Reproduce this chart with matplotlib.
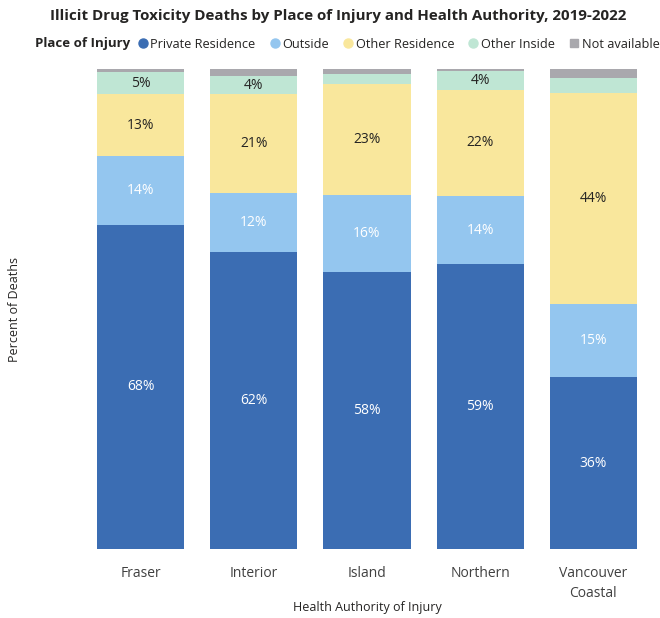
import matplotlib.pyplot as plt
import numpy as np
from matplotlib.lines import Line2D

plt.rcParams['font.family'] = ['Open Sans', 'DejaVu Sans']

# Data (percent of deaths)
authorities = ['Fraser', 'Interior', 'Island', 'Northern', 'Vancouver\nCoastal']
places = ['Private Residence', 'Outside', 'Other Residence', 'Other Inside', 'Not available']
private_res = [67.6, 61.8, 57.8, 59.3, 35.8]
outside = [14.2, 12.3, 15.9, 14.2, 15.2]
other_res = [12.9, 20.6, 23.1, 22.2, 44.1]
other_inside = [4.7, 3.8, 2.2, 3.8, 3.0]
not_available = [0.6, 1.5, 1.0, 0.5, 1.9]

colors = ['#3b6db3', '#94c6ef', '#f9e79c', '#bfe6d4', '#a9a8ad']
text_colors = ['white', 'white', '#252423', '#252423', '#252423']

fig = plt.figure(figsize=(6.6, 6.18), dpi=100)
ax = fig.add_axes([84 / 660, 1 - 549 / 618, 566 / 660, 480 / 618])

x = np.arange(len(authorities))
series = [private_res, outside, other_res, other_inside, not_available]
bottom = np.zeros(len(authorities))
for vals, col, tcol in zip(series, colors, text_colors):
    vals = np.array(vals)
    ax.bar(x, vals, bottom=bottom, width=0.77, color=col, edgecolor='none')
    for xi, b, v in zip(x, bottom, vals):
        if v >= 3.5:
            ax.text(xi, b + v / 2, f'{v:.0f}%', ha='center', va='center',
                    color=tcol, fontsize=10)
    bottom += vals

ax.set_xlim(-0.5, 4.5)
ax.set_ylim(0, 100)
ax.set_yticks([])
ax.set_xticks(x)
ax.set_xticklabels(authorities, fontsize=10, color='#404040', linespacing=1.5)
ax.tick_params(axis='x', length=0, pad=12)
for s in ax.spines.values():
    s.set_visible(False)

fig.text(367 / 660, 1 - 608 / 618, 'Health Authority of Injury', ha='center', va='center',
         fontsize=9, color='#252423')
fig.text(15 / 660, 1 - 310 / 618, 'Percent of Deaths', rotation=90, ha='center',
         va='center', fontsize=9, color='#252423')

fig.text(338 / 660, 1 - 16 / 618, 'Illicit Drug Toxicity Deaths by Place of Injury and Health Authority, 2019-2022',
         ha='center', va='center', fontsize=10.9, fontweight='bold', color='#252423')

# Legend
fig.text(35 / 660, 1 - 44 / 618, 'Place of Injury', ha='left', va='center',
         fontsize=9.5, fontweight='bold', color='#252423')
handles = [Line2D([], [], marker='o', linestyle='none', color=c, markersize=6.5)
           for c in colors[:4]]
handles.append(Line2D([], [], marker='s', linestyle='none', color=colors[4], markersize=5.5))
fig.legend(handles, places, loc='center left', bbox_to_anchor=(135 / 660, 1 - 44 / 618),
           ncol=5, frameon=False, fontsize=9.2, handletextpad=0.0, columnspacing=0.9,
           handlelength=1.2, borderaxespad=0, borderpad=0, labelcolor='#252423')

plt.savefig('out.png')
